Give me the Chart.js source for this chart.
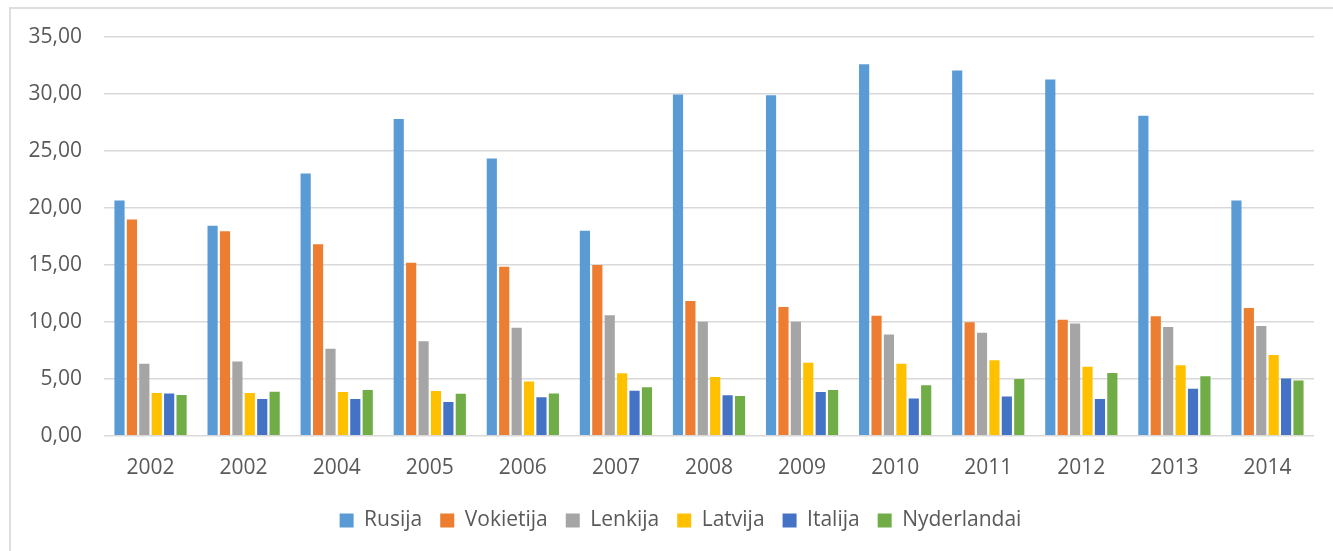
<!DOCTYPE html>
<html>
<head>
<meta charset="utf-8">
<script src="https://cdn.jsdelivr.net/npm/chart.js@4.4.1/dist/chart.umd.min.js"></script>
<style>
    html, body { margin: 0; padding: 0; background: #fff; overflow: hidden; }
    #wrap   { position: relative; width: 1333px; height: 551px; }
    #frame  { position: absolute; left: 9px; top: 7px; right: -10px; bottom: -10px;
              border-left: 2px solid #dedede; border-top: 2px solid #dedede; }
    canvas  { position: absolute; left: 0; top: 0; }
</style>
</head>
<body>
<div id="wrap">
    <div id="frame"></div>
    <canvas id="chart" width="1333" height="551"></canvas>
</div>
<script>
/* ── data ── */
const years       = ['2002', '2002', '2004', '2005', '2006', '2007', '2008', '2009', '2010', '2011', '2012', '2013', '2014'];
const rusija      = [20.66, 18.43, 23.01, 27.81, 24.34, 17.99, 29.95, 29.89, 32.61, 32.05, 31.28, 28.09, 20.66];
const vokietija   = [18.98, 17.96, 16.82, 15.18, 14.83, 14.99, 11.83, 11.30, 10.53,  9.97, 10.19, 10.50, 11.21];
const lenkija     = [ 6.32,  6.53,  7.65,  8.30,  9.48, 10.59, 10.00, 10.00,  8.89,  9.04,  9.85,  9.54,  9.63];
const latvija     = [ 3.75,  3.75,  3.84,  3.93,  4.77,  5.48,  5.17,  6.41,  6.32,  6.63,  6.07,  6.19,  7.09];
const italija     = [ 3.72,  3.22,  3.22,  2.97,  3.38,  3.96,  3.56,  3.84,  3.28,  3.44,  3.22,  4.12,  5.02];
const nyderlandai = [ 3.59,  3.87,  4.03,  3.69,  3.72,  4.27,  3.50,  4.03,  4.43,  4.99,  5.51,  5.23,  4.86];
const yTicks      = [0, 5, 10, 15, 20, 25, 30, 35];

const series = [
    { label: 'Rusija',      data: rusija,      color: '#5B9BD5' },
    { label: 'Vokietija',   data: vokietija,   color: '#ED7D31' },
    { label: 'Lenkija',     data: lenkija,     color: '#A5A5A5' },
    { label: 'Latvija',     data: latvija,     color: '#FFC000' },
    { label: 'Italija',     data: italija,     color: '#4472C4' },
    { label: 'Nyderlandai', data: nyderlandai, color: '#70AD47' },
];

const textColor = '#595959';
const gridColor = '#D9D9D9';
const font      = { family: '"Open Sans", sans-serif', size: 21 };

new Chart(document.getElementById('chart').getContext('2d'), {
    type: 'bar',
    data: {
        labels: years,
        datasets: series.map(s => ({
            label:              s.label,
            data:               s.data,
            backgroundColor:    s.color,
            borderWidth:        0,
            barPercentage:      0.82,
            categoryPercentage: 0.8,
        })),
    },
    options: {
        responsive: false,
        animation:  false,
        layout: { padding: { left: 28, top: 37, right: 0, bottom: 10 } },
        scales: {
            x: {
                grid:   { display: false },
                border: { display: false },
                ticks:  { color: textColor, font, padding: 12 },
                afterFit: axis => { axis.height -= 1; },
            },
            y: {
                min: yTicks[0],
                max: yTicks[yTicks.length - 1],
                grid:   { color: gridColor, lineWidth: 1.5, drawTicks: false },
                border: { display: false },
                afterBuildTicks: axis => { axis.ticks = yTicks.map(v => ({ value: v })); },
                afterFit: axis => { axis.width = 76; },
                ticks: {
                    color: textColor, font, padding: 22,
                    callback: v => v.toFixed(2).replace('.', ','),
                },
            },
            // empty right-hand spacer so the plot stops short of the edge
            spacer: {
                type: 'linear', position: 'right', display: true,
                grid:   { display: false },
                border: { display: false },
                ticks:  { display: false },
                afterFit: axis => { axis.width = 19; },
            },
        },
        plugins: {
            legend: {
                position: 'bottom',
                labels: { color: textColor, font, boxWidth: 14, boxHeight: 14, padding: 18 },
            },
            tooltip: { enabled: false },
        },
    },
});
</script>
</body>
</html>
